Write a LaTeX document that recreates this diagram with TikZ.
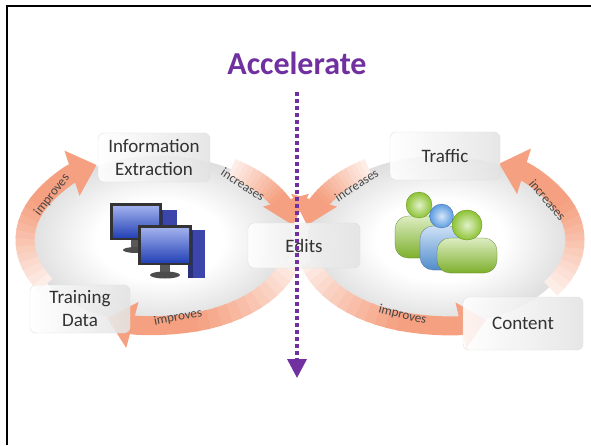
\documentclass[tikz,border=0pt]{standalone}
\usepackage{fontspec}
\setmainfont{Carlito}
\usetikzlibrary{arrows.meta, calc, positioning}

\definecolor{accelpurple}{RGB}{112,48,160}
\definecolor{bandsalmon}{RGB}{245,160,128}
\definecolor{boxtext}{RGB}{50,50,50}
\definecolor{screenblue}{RGB}{45,80,215}
\definecolor{caseblue}{RGB}{60,70,170}
\definecolor{mangreen}{RGB}{140,195,50}
\definecolor{manblue}{RGB}{90,155,225}

% soft grey halo behind each cycle
\pgfdeclareradialshading{halo}{\pgfpoint{0bp}{0bp}}{color(0bp)=(white); color(12bp)=(white); color(21bp)=(gray!18); color(25bp)=(gray!26); color(50bp)=(gray!26)}

\tikzset{
  stage/.style={rounded corners=6pt, draw=gray!25, left color=white, right color=gray!22,
    fill opacity=0.88, text opacity=1, text=boxtext, align=center, inner sep=0pt,
    font=\fontsize{19}{23}\selectfont},
  verb/.style={text=boxtext!90, inner sep=0pt, font=\fontsize{13}{15}\selectfont},
  band/.style={line width=19pt},
  speedup/.style={accelpurple, line width=3.5pt, dash pattern=on 3.5pt off 3.5pt,
    -{Triangle[width=19pt,length=19pt]}},
}

% #1 centre, #2 start angle, #3 end angle: salmon arc whose tail fades out
\newcommand{\cyclearrow}[3]{%
  \foreach \k in {1,...,12}{%
    \pgfmathsetmacro{\from}{#2+(\k-1)*(#3-#2)*0.05}%
    \pgfmathsetmacro{\upto}{#2+(\k*0.05+0.015)*(#3-#2)}%
    \pgfmathtruncatemacro{\tint}{12+\k*7}%
    \draw[band, bandsalmon!\tint!white]
      ($(#1)+(\from:135 and 85)$) arc[start angle=\from, end angle=\upto, x radius=135, y radius=85];
  }%
  \pgfmathsetmacro{\from}{#2+0.6*(#3-#2)}%
  \draw[band, bandsalmon, -{Triangle[width=46pt,length=26pt]}]
    ($(#1)+(\from:135 and 85)$) arc[start angle=\from, end angle=#3, x radius=135, y radius=85];
}

% #1 body left, #2 body bottom, #3 body right, #4 body top, #5 head radius, #6 colour
\newcommand{\buddy}[6]{%
  \shade[top color=#6!30!white, bottom color=#6!90!black, rounded corners=13pt, draw=#6!60!black, line width=0.2pt]
    (#1,#2) rectangle (#3,#4);
  \shade[inner color=#6!25!white, outer color=#6, draw=#6!60!black, line width=0.2pt]
    ({(#1+#3)/2},{#4+#5-2}) circle (#5);
}

\begin{document}
\begin{tikzpicture}[x=1pt, y=1pt]
  \useasboundingbox (0,0) rectangle (591,445);

  % frame
  \draw[line width=2.3pt] (7.3,0) -- (7.3,438.8) -- (591,438.8);

  \coordinate (leftcyc) at (160,205);
  \coordinate (rightcyc) at (440,205);

  % halos
  \shade[shading=halo] (leftcyc) ellipse [x radius=132, y radius=84];
  \shade[shading=halo] (rightcyc) ellipse [x radius=132, y radius=84];

  % left cycle, clockwise
  \cyclearrow{leftcyc}{212}{118}
  \cyclearrow{leftcyc}{58}{10}
  \cyclearrow{leftcyc}{-15}{-113}

  % right cycle, counter-clockwise
  \cyclearrow{rightcyc}{122}{170}
  \cyclearrow{rightcyc}{195}{290}
  \cyclearrow{rightcyc}{-35}{64}

  % arrow labels
  \node[verb, rotate=52]  (impL) at (52,250)    {improves};
  \node[verb, rotate=-33] (incL) at (243,260.5) {increases};
  \node[verb, rotate=11]  (impB) at (178,127.5) {improves};
  \node[verb, rotate=33]  (incT) at (356.5,260) {increases};
  \node[verb, rotate=-50] (incR) at (547.5,245) {increases};
  \node[verb, rotate=-14] (impR) at (402.5,130) {improves};

  % two workstations
  \fill[caseblue] (158,190) rectangle (177,235);
  \fill[caseblue!70!black] (158,190) rectangle (163,235);
  \fill[gray!70!black] (131,196) rectangle (141,206);
  \fill[gray!60!black] (136,195) ellipse [x radius=13, y radius=3];
  \fill[black!80] (110,205) rectangle (162,242);
  \shade[top color=screenblue!45!white, bottom color=screenblue!85!black] (113,208) rectangle (159,239);
  \fill[caseblue] (188,167) rectangle (205,215);
  \fill[caseblue!70!black] (188,167) rectangle (193,215);
  \fill[gray!70!black] (160,172) rectangle (170,181);
  \fill[gray!60!black] (165,170) ellipse [x radius=15, y radius=3.5];
  \fill[black!80] (138,180) rectangle (192,220);
  \shade[top color=screenblue!45!white, bottom color=screenblue!85!black] (141,183) rectangle (189,217);

  % three users
  \buddy{395}{187}{443}{229}{13}{mangreen}
  \buddy{420}{175}{463}{219}{12}{manblue}
  \buddy{437}{172}{497}{207}{15}{mangreen}

  % stages
  \node[stage, minimum width=112pt, minimum height=49pt] (infoext)  at (154,287.5) {Information\\Extraction};
  \node[stage, minimum width=100pt, minimum height=48pt] (training) at (80,136)    {Training\\Data};
  \node[stage, minimum width=112pt, minimum height=45pt] (edits)    at (304,199.5) {Edits};
  \node[stage, minimum width=110pt, minimum height=48pt] (traffic)  at (445,289)   {Traffic};
  \node[stage, minimum width=120pt, minimum height=53pt] (content)  at (523,121.5) {Content};

  % accelerate
  \node[accelpurple, anchor=base, inner sep=0pt, font=\fontsize{32}{36}\selectfont\bfseries] (accel) at (297,370) {Accelerate};
  \coordinate (accelend) at (297,67);
  \draw[speedup] ([yshift=-17pt]accel.south) -- (accelend);
\end{tikzpicture}
\end{document}
